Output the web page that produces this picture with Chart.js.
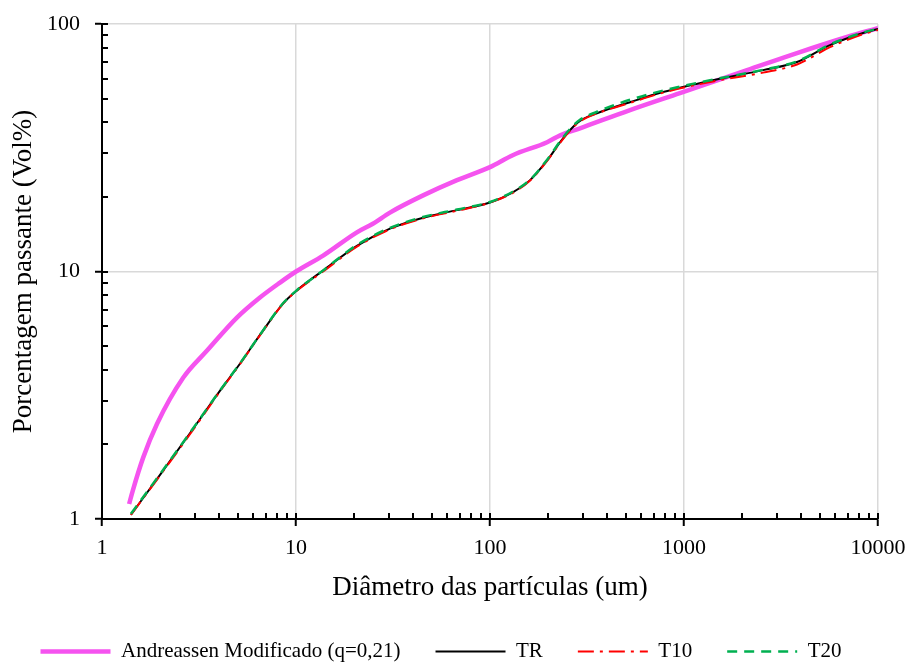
<!DOCTYPE html>
<html>
<head>
<meta charset="utf-8">
<script src="https://cdn.jsdelivr.net/npm/chart.js@4.4.0/dist/chart.umd.min.js"></script>
<style>
  html, body { margin: 0; background: #fff; }
</style>
</head>
<body>
<canvas id="chart" width="910" height="664"></canvas>
<script>
// Décadas dos eixos (escala logarítmica)
const xMajor = [1, 10, 100, 1000, 10000];
const yMajor = [1, 10, 100];

// Andreassen Modificado (q=0,21)
const andreassenX = [1.38, 1.44, 1.63, 1.92, 2.62, 3.48, 4.96, 6.52, 8.27, 10, 13.8, 20.6, 24.9, 30.5, 45.2, 67.6, 100, 131, 197, 230, 291, 527, 953, 2113, 3823, 6920, 10000];
const andreassenY = [1.15, 1.30, 1.77, 2.42, 3.72, 4.79, 6.51, 7.85, 9.02, 10, 11.6, 14.4, 15.6, 17.3, 20.3, 23.4, 26.4, 29.5, 33.3, 35.5, 37.9, 44.9, 52.6, 65.1, 76.3, 88.6, 96.3];

// TR
const trX = [1.41, 2.03, 2.84, 4.06, 5.14, 6.76, 8.57, 10.1, 13.8, 20.6, 30.5, 45.2, 67.6, 100, 131, 161, 197, 230, 258, 291, 356, 527, 779, 1410, 2554, 3823, 5656, 8370, 10000];
const trY = [1.04, 1.54, 2.22, 3.30, 4.24, 5.77, 7.42, 8.38, 10.1, 12.7, 14.9, 16.5, 17.7, 19.0, 20.9, 23.4, 28.1, 33.3, 37.2, 40.6, 43.6, 48.3, 53.1, 59.3, 65.1, 70.2, 82.2, 92.0, 95.5];

// T10
const t10X = [1.41, 2.03, 2.84, 4.06, 5.14, 6.76, 8.57, 10.1, 13.8, 20.6, 30.5, 45.2, 67.6, 100, 131, 161, 197, 230, 258, 291, 356, 527, 779, 1410, 2554, 3823, 5656, 8370, 10000];
const t10Y = [1.04, 1.53, 2.20, 3.28, 4.22, 5.75, 7.40, 8.36, 10.0, 12.6, 14.8, 16.4, 17.6, 19.0, 20.8, 23.3, 28.0, 33.1, 37.0, 40.4, 43.5, 48.0, 52.8, 58.6, 63.6, 68.6, 80.6, 91.0, 94.6];

// T20
const t20X = [1.41, 2.03, 2.84, 4.06, 5.14, 6.76, 8.57, 10.1, 13.8, 20.6, 30.5, 45.2, 67.6, 100, 131, 161, 197, 230, 258, 291, 356, 527, 779, 1410, 2554, 3823, 5656, 8370, 10000];
const t20Y = [1.05, 1.55, 2.23, 3.31, 4.25, 5.78, 7.44, 8.40, 10.1, 12.8, 15.0, 16.6, 17.8, 19.1, 21.0, 23.5, 28.3, 33.6, 37.6, 41.0, 44.2, 49.4, 53.8, 59.6, 65.3, 70.6, 82.6, 92.4, 95.8];

const serif = '"Liberation Serif", "Times New Roman", serif';

// ticks 1..9 de cada década, só as potências de 10 são "major"
const buildLogTicks = (majors) => {
  const ticks = [];
  majors.forEach((m, i) => {
    ticks.push({ value: m, major: true });
    if (i < majors.length - 1) {
      for (let k = 2; k <= 9; k++) ticks.push({ value: m * k, major: false });
    }
  });
  return ticks;
};

const toPoints = (xs, ys) => xs.map((x, i) => ({ x: x, y: ys[i] }));

// tracinhos internos nos eixos (estilo Excel)
const innerTicks = {
  id: 'innerTicks',
  afterDatasetsDraw(chart) {
    const { ctx, chartArea: a, scales: { x, y } } = chart;
    ctx.save();
    ctx.strokeStyle = '#000';
    ctx.lineWidth = 2;
    ctx.beginPath();
    x.ticks.forEach(t => {
      const px = Math.round(x.getPixelForValue(t.value));
      ctx.moveTo(px, a.bottom);
      ctx.lineTo(px, a.bottom - 6);
    });
    y.ticks.forEach(t => {
      const py = Math.round(y.getPixelForValue(t.value));
      ctx.moveTo(a.left, py);
      ctx.lineTo(a.left + 6, py);
    });
    ctx.stroke();
    ctx.restore();
  }
};

const gridColor = c => (c.tick && c.tick.major) ? '#d9d9d9' : 'rgba(0,0,0,0)';
const tickColor = c => (c.tick && c.tick.major) ? '#000' : 'rgba(0,0,0,0)';

new Chart(document.getElementById('chart'), {
  type: 'line',
  data: {
    datasets: [
      {
        label: 'Andreassen Modificado (q=0,21)',
        data: toPoints(andreassenX, andreassenY),
        borderColor: '#f553ef',
        backgroundColor: '#f553ef',
        borderWidth: 4.5,
        order: 3
      },
      {
        label: 'TR',
        data: toPoints(trX, trY),
        borderColor: '#000000',
        backgroundColor: '#000000',
        borderWidth: 2,
        order: 2
      },
      {
        label: 'T10',
        data: toPoints(t10X, t10Y),
        borderColor: '#ff0000',
        backgroundColor: '#ff0000',
        borderWidth: 2,
        borderDash: [16, 6, 3, 6],
        order: 1
      },
      {
        label: 'T20',
        data: toPoints(t20X, t20Y),
        borderColor: '#00b050',
        backgroundColor: '#00b050',
        borderWidth: 2.5,
        borderDash: [10, 7],
        order: 0
      }
    ]
  },
  options: {
    responsive: false,
    animation: false,
    layout: { padding: { left: 4, top: 24, right: 32, bottom: -8 } },
    elements: {
      point: { radius: 0, hoverRadius: 0 },
      line: { tension: 0.4, cubicInterpolationMode: 'monotone', fill: false }
    },
    scales: {
      x: {
        type: 'logarithmic',
        min: 1,
        max: 10000,
        afterBuildTicks: s => { s.ticks = buildLogTicks(xMajor); },
        afterFit: s => { s.height = 87; s.paddingLeft = 0; s.paddingRight = 0; },
        grid: { color: gridColor, lineWidth: 1.5, tickColor: tickColor, tickLength: 7, tickWidth: 2 },
        border: { color: '#000', width: 2 },
        ticks: {
          autoSkip: false,
          maxRotation: 0,
          padding: 9,
          color: '#000',
          font: { family: serif, size: 22 },
          callback: (v, i, ticks) => ticks[i].major ? String(v) : ''
        },
        title: {
          display: true,
          text: 'Diâmetro das partículas (um)',
          color: '#000',
          font: { family: serif, size: 27 },
          padding: { top: 0, bottom: 2 }
        }
      },
      y: {
        type: 'logarithmic',
        min: 1,
        max: 100,
        afterBuildTicks: s => { s.ticks = buildLogTicks(yMajor); },
        afterFit: s => { s.width = 98; s.paddingTop = 0; s.paddingBottom = 0; },
        grid: { color: gridColor, lineWidth: 1.5, tickColor: tickColor, tickLength: 7, tickWidth: 2 },
        border: { color: '#000', width: 2 },
        ticks: {
          autoSkip: false,
          padding: 15,
          color: '#000',
          font: { family: serif, size: 22 },
          callback: (v, i, ticks) => ticks[i].major ? String(v) : ''
        },
        title: {
          display: true,
          text: 'Porcentagem passante (Vol%)',
          color: '#000',
          font: { family: serif, size: 27 },
          padding: { top: 4, bottom: 4 }
        }
      }
    },
    plugins: {
      legend: {
        position: 'bottom',
        reverse: true,
        labels: {
          usePointStyle: true,
          pointStyle: 'line',
          pointStyleWidth: 70,
          padding: 35,
          color: '#000',
          font: { family: serif, size: 21 },
          generateLabels: chart => {
            const items = Chart.defaults.plugins.legend.labels.generateLabels(chart);
            items.forEach(it => {
              const ds = chart.data.datasets[it.datasetIndex];
              it.lineDash = ds.borderDash || [];
              it.lineWidth = ds.borderWidth;
              it.strokeStyle = ds.borderColor;
            });
            return items;
          }
        }
      },
      tooltip: { enabled: false }
    }
  },
  plugins: [innerTicks]
});
</script>
</body>
</html>
